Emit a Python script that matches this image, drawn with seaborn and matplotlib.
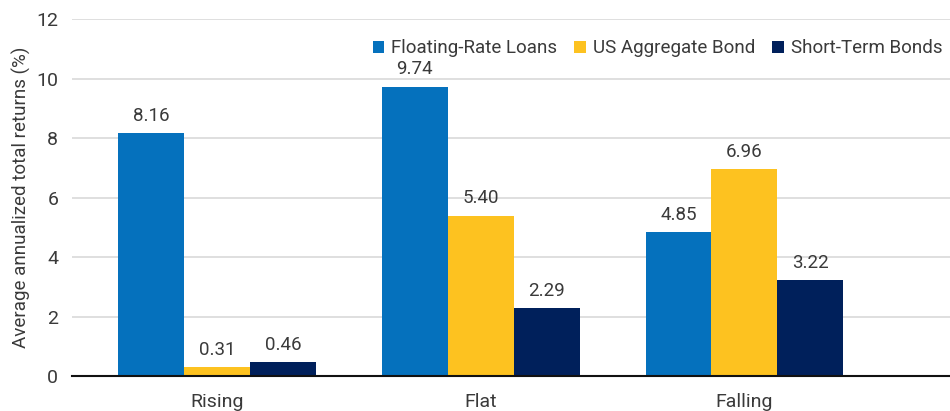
import matplotlib
matplotlib.use("Agg")
import matplotlib.pyplot as plt
import seaborn as sns
import pandas as pd

categories = ["Rising", "Flat", "Falling"]
series = ["Floating-Rate Loans", "US Aggregate Bond", "Short-Term Bonds"]
floating = [8.16, 9.74, 4.85]
us_agg = [0.31, 5.40, 6.96]
short_term = [0.46, 2.29, 3.22]
colors = ["#0571BD", "#FDC220", "#00205B"]

rows = []
for s, vals in zip(series, [floating, us_agg, short_term]):
    for c, v in zip(categories, vals):
        rows.append({"Scenario": c, "Series": s, "Value": v})
df = pd.DataFrame(rows)

sns.set_theme(style="white")
plt.rcParams["font.family"] = ["Roboto", "DejaVu Sans"]
text_color = "#3a3a3a"

fig = plt.figure(figsize=(9.5, 4.11), dpi=100)
ax = fig.add_axes([0.076, 0.085, 0.924, 0.868])
sns.barplot(data=df, x="Scenario", y="Value", hue="Series", order=categories,
            hue_order=series, palette=colors, width=0.75, saturation=1,
            linewidth=0, ax=ax, legend=True)

for cont in ax.containers:
    ax.bar_label(cont, fmt="%.2f", padding=6, fontsize=13.5, color=text_color)

ax.set_ylim(0, 12)
ax.set_yticks([0, 2, 4, 6, 8, 10, 12])
ax.set_xlim(-0.55, 2.78)
ax.yaxis.grid(True, color="#d9d9d9", linewidth=1.2)
ax.set_axisbelow(True)
for s in ["top", "right", "left"]:
    ax.spines[s].set_visible(False)
ax.spines["bottom"].set_color("#111111")
ax.spines["bottom"].set_linewidth(1.5)
ax.tick_params(axis="y", length=0, labelsize=14, colors=text_color, pad=10)
ax.tick_params(axis="x", length=0, labelsize=14, colors=text_color, pad=12)
ax.set_xlabel("")
ax.set_ylabel("Average annualized total returns (%)", fontsize=13.5, color=text_color, labelpad=4)

leg = ax.legend(loc="upper right", bbox_to_anchor=(1.0, 0.965), ncol=3, frameon=False,
                fontsize=13.5, handlelength=0.6, handleheight=0.6, handletextpad=0.4,
                columnspacing=0.9, borderaxespad=0)
for t in leg.get_texts():
    t.set_color(text_color)

fig.savefig("out.png", dpi=100)
